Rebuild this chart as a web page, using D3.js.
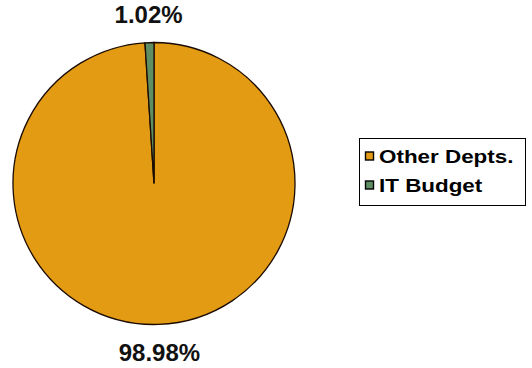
<!DOCTYPE html>
<html>
<head>
<meta charset="utf-8">
<script src="https://cdn.jsdelivr.net/npm/d3@7"></script>
<style>
  body { margin: 0; background: #fff; }
  text { font-family: "Liberation Sans", Arial, sans-serif; font-weight: bold; }
</style>
</head>
<body>
<div id="chart"></div>
<script>
const categories = ["Other Depts.", "IT Budget"];
const shares = [98.98, 1.02];
const colors = ["#E39B13", "#5E8E62"];

const width = 532, height = 368;
const cx = 154, cy = 183.5, radius = 141;

const svg = d3.select("#chart")
  .append("svg")
  .attr("width", width)
  .attr("height", height);

const data = categories.map((c, i) => ({ name: c, value: shares[i], color: colors[i] }));

const pie = d3.pie().sort(null).value(d => d.value);
const arcs = pie(data);

const arc = d3.arc().innerRadius(0).outerRadius(radius);
const labelArc = d3.arc().innerRadius(169).outerRadius(169);

const g = svg.append("g").attr("transform", `translate(${cx},${cy})`);

g.selectAll("path.slice")
  .data(arcs)
  .enter().append("path")
  .attr("class", "slice")
  .attr("d", arc)
  .attr("fill", d => d.data.color)
  .attr("stroke", "#1a0a00")
  .attr("stroke-width", 1.3);

g.selectAll("text.pct")
  .data(arcs)
  .enter().append("text")
  .attr("class", "pct")
  .attr("transform", d => `translate(${labelArc.centroid(d)})`)
  .attr("text-anchor", "middle")
  .attr("dominant-baseline", "central")
  .style("font-size", "24px")
  .attr("fill", "#111")
  .text(d => d.data.value.toFixed(2) + "%");

// legend
const legend = svg.append("g").attr("transform", "translate(359.5,138.5)");
legend.append("rect")
  .attr("width", 166)
  .attr("height", 67)
  .attr("fill", "#fff")
  .attr("stroke", "#000")
  .attr("stroke-width", 1);

const item = legend.selectAll("g.item")
  .data(data)
  .enter().append("g")
  .attr("class", "item")
  .attr("transform", (d, i) => `translate(6,${13.5 + i * 29})`);

item.append("rect")
  .attr("width", 8)
  .attr("height", 8)
  .attr("fill", d => d.color)
  .attr("stroke", "#000")
  .attr("stroke-width", 1.4);

// reference font is wider (Arial Black-like), stretch horizontally
item.append("text")
  .attr("transform", "translate(13.5,10.5) scale(1.18,1)")
  .style("font-size", "19px")
  .attr("fill", "#000")
  .text(d => d.name);
</script>
</body>
</html>
